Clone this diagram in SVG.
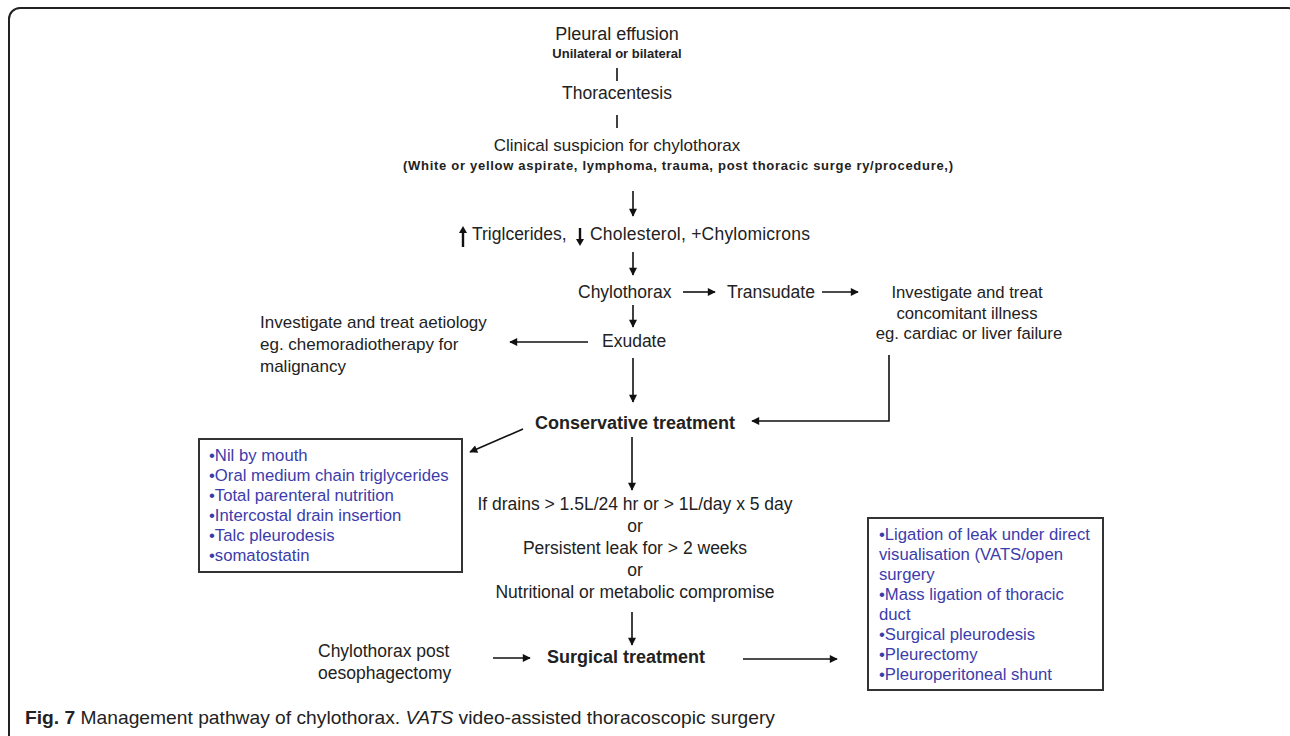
<svg xmlns="http://www.w3.org/2000/svg" width="1290" height="736" viewBox="0 0 1290 736">
  <defs>
    <marker id="ah" viewBox="0 0 10 10" refX="9" refY="5" markerUnits="userSpaceOnUse" markerWidth="9" markerHeight="8" orient="auto">
      <path d="M0,0 L10,5 L0,10 z" fill="#111"/>
    </marker>
    <style>
      .t{font-family:"Liberation Sans",Arial,sans-serif;font-size:17.5px;fill:#222}
      .m{text-anchor:middle}
      .b{font-weight:bold}
      .s{font-size:16.7px}
      .blue{font-family:"Liberation Sans",Arial,sans-serif;font-size:16.7px;fill:#3c3cab}
      .c{fill:none;stroke:#111;stroke-width:1.6;marker-end:url(#ah)}
      .p{fill:none;stroke:#111;stroke-width:1.6}
      .box{fill:#fff;stroke:#333;stroke-width:2}
    </style>
  </defs>
  <rect width="1290" height="736" fill="#fff"/>
  <rect id="frame" x="9" y="8" width="1290" height="800" rx="11" fill="none" stroke="#222" stroke-width="2"/>

  <g id="connectors">
    <path class="p" d="M617,68 V81"/>
    <path class="p" d="M617,115 V128"/>
    <path class="c" d="M633,191 V216"/>
    <path class="c" d="M633,252 V275"/>
    <path class="c" d="M683,292 H715"/>
    <path class="c" d="M822,292 H858"/>
    <path class="c" d="M633,305 V327"/>
    <path class="c" d="M588,342 H510"/>
    <path class="c" d="M633,358 V402"/>
    <path class="c" d="M889,355 V421 H752"/>
    <path class="c" d="M523,429 L470,452"/>
    <path class="c" d="M632,437 V490"/>
    <path class="c" d="M632,612 V645"/>
    <path class="c" d="M493,658 H530"/>
    <path class="c" d="M743,659 H837"/>
  </g>

  <g id="n-pleural">
    <text class="t m" x="617" y="40" style="font-size:18px">Pleural effusion</text>
    <text class="t m b" x="617" y="58" style="font-size:13px">Unilateral or bilateral</text>
  </g>
  <g id="n-thoracentesis">
    <text class="t m" x="617" y="99" style="font-size:17.5px">Thoracentesis</text>
  </g>
  <g id="n-clinical">
    <text class="t m" x="617" y="151" style="font-size:17px">Clinical suspicion for chylothorax</text>
    <text class="t b" x="403" y="170" style="font-size:13px" textLength="550">(White or yellow aspirate, lymphoma, trauma, post thoracic surge ry/procedure,)</text>
  </g>
  <g id="n-lab">
    <path d="M463,247 V232" stroke="#111" stroke-width="2.4" fill="none"/>
    <path d="M459,233 L463,226 L467,233 z" fill="#111"/>
    <text class="t" x="472" y="240">Triglcerides,</text>
    <path d="M580,228 V240" stroke="#111" stroke-width="2.4" fill="none"/>
    <path d="M576,239 L580,246 L584,239 z" fill="#111"/>
    <text class="t" x="590" y="240" textLength="220">Cholesterol, +Chylomicrons</text>
  </g>
  <g id="n-chylothorax">
    <text class="t" x="578" y="298">Chylothorax</text>
  </g>
  <g id="n-transudate">
    <text class="t" x="727" y="298">Transudate</text>
  </g>
  <g id="n-concomitant">
    <text class="t m s" x="967" y="298">Investigate and treat</text>
    <text class="t m s" x="967" y="319">concomitant illness</text>
    <text class="t m s" x="969" y="339">eg. cardiac or liver failure</text>
  </g>
  <g id="n-exudate">
    <text class="t" x="602" y="347">Exudate</text>
  </g>
  <g id="n-aetiology">
    <text class="t" x="260" y="328" style="font-size:17px">Investigate and treat aetiology</text>
    <text class="t" x="260" y="350" style="font-size:17px">eg. chemoradiotherapy for</text>
    <text class="t" x="260" y="372" style="font-size:17px">malignancy</text>
  </g>
  <g id="n-conservative">
    <text class="t b" x="535" y="429" style="font-size:18px">Conservative treatment</text>
  </g>
  <g id="n-conservative-list">
    <rect class="box" x="199" y="439" width="263" height="133"/>
    <text class="blue" x="209" y="461">•Nil by mouth</text>
    <text class="blue" x="209" y="481">•Oral medium chain triglycerides</text>
    <text class="blue" x="209" y="501">•Total parenteral nutrition</text>
    <text class="blue" x="209" y="521">•Intercostal drain insertion</text>
    <text class="blue" x="209" y="541">•Talc pleurodesis</text>
    <text class="blue" x="209" y="561">•somatostatin</text>
  </g>
  <g id="n-criteria">
    <text class="t m" x="635" y="510">If drains &gt; 1.5L/24 hr or &gt; 1L/day x 5 day</text>
    <text class="t m" x="635" y="532">or</text>
    <text class="t m" x="635" y="554">Persistent leak for &gt; 2 weeks</text>
    <text class="t m" x="635" y="576">or</text>
    <text class="t m" x="635" y="598">Nutritional or metabolic compromise</text>
  </g>
  <g id="n-post-oesophagectomy">
    <text class="t" x="318" y="657">Chylothorax post</text>
    <text class="t" x="318" y="679">oesophagectomy</text>
  </g>
  <g id="n-surgical">
    <text class="t b" x="547" y="663" style="font-size:18px">Surgical treatment</text>
  </g>
  <g id="n-surgical-list">
    <rect class="box" x="868" y="518" width="235" height="172"/>
    <text class="blue" x="879" y="540">•Ligation of leak under direct</text>
    <text class="blue" x="879" y="560">visualisation (VATS/open</text>
    <text class="blue" x="879" y="580">surgery</text>
    <text class="blue" x="879" y="600">•Mass ligation of thoracic</text>
    <text class="blue" x="879" y="620">duct</text>
    <text class="blue" x="879" y="640">•Surgical pleurodesis</text>
    <text class="blue" x="879" y="660">•Pleurectomy</text>
    <text class="blue" x="879" y="680">•Pleuroperitoneal shunt</text>
  </g>
  <g id="caption">
    <text x="25" y="724" font-family="'Liberation Sans',Arial,sans-serif" font-size="19" fill="#222" textLength="750" lengthAdjust="spacingAndGlyphs"><tspan font-weight="bold">Fig. 7</tspan> Management pathway of chylothorax. <tspan font-style="italic">VATS</tspan> video-assisted thoracoscopic surgery</text>
  </g>
</svg>
